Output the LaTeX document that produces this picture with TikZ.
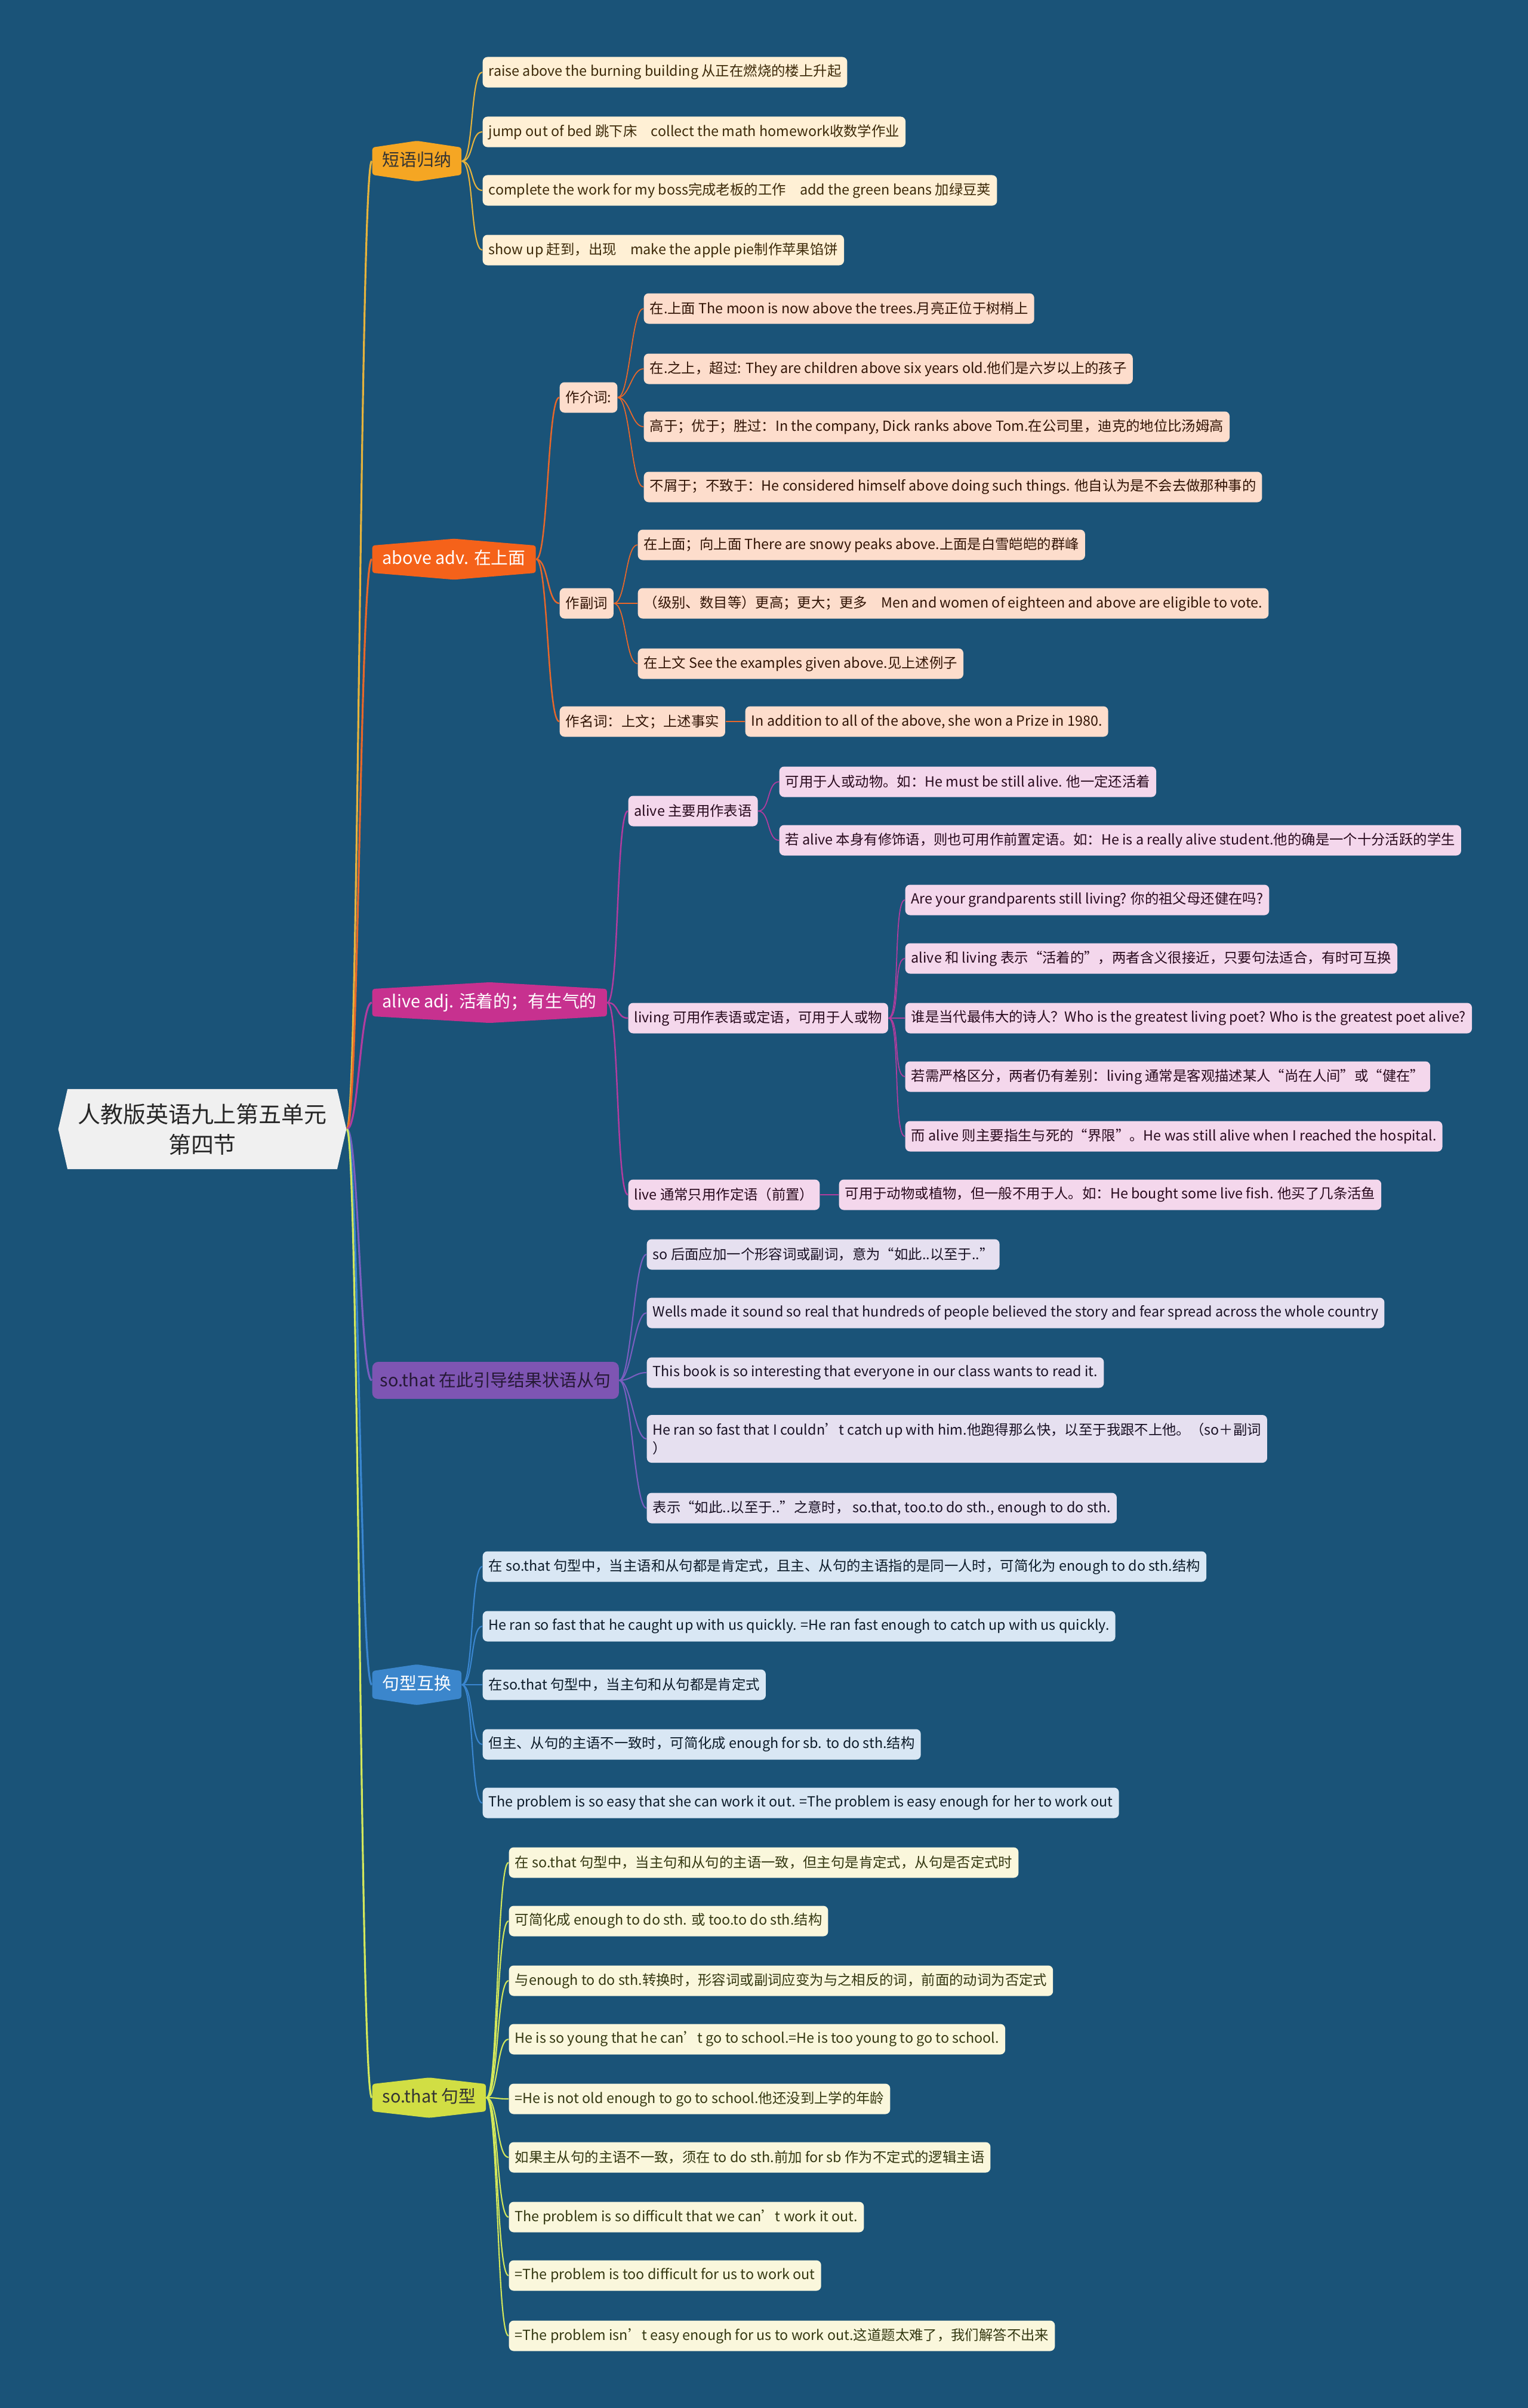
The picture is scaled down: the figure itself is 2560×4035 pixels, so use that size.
\documentclass[tikz,border=0pt]{standalone}
\usepackage{fontspec}
\setmainfont{Noto Sans CJK SC}
\usetikzlibrary{shapes.symbols}
\definecolor{bgblue}{HTML}{1A5378}
\definecolor{rootgray}{HTML}{F0F0F0}
\definecolor{rootink}{HTML}{262626}
% main topics
\definecolor{phrMain}{HTML}{F5A623}
\definecolor{abvMain}{HTML}{F5621A}
\definecolor{alvMain}{HTML}{C7318F}
\definecolor{sotMain}{HTML}{7E55B3}
\definecolor{swpMain}{HTML}{3B86CC}
\definecolor{patMain}{HTML}{D1DE44}
% leaves
\definecolor{phrLeaf}{HTML}{FFF0D5}
\definecolor{abvLeaf}{HTML}{FDDDCC}
\definecolor{alvLeaf}{HTML}{F4D7EC}
\definecolor{sotLeaf}{HTML}{E6E0F0}
\definecolor{swpLeaf}{HTML}{D9E7F4}
\definecolor{patLeaf}{HTML}{FAF7DC}
% wires
\definecolor{phrWire}{HTML}{E6B33C}
\definecolor{abvWire}{HTML}{E8672A}
\definecolor{alvWire}{HTML}{B23C9F}
\definecolor{sotWire}{HTML}{7A5EC0}
\definecolor{swpWire}{HTML}{3A86D0}
\definecolor{patWire}{HTML}{D4E85A}
\tikzset{leaf/.style={fill=#1,rounded corners=0.08cm,anchor=west,minimum height=0.51cm,inner xsep=0.1cm,inner ysep=0pt,font=\fontsize{6.65}{9}\selectfont}}
\tikzset{hexmain/.style={shape=signal,signal to=north and south,signal pointer angle=163,fill=#1,rounded corners=0.04cm,anchor=west,inner xsep=0.17cm,inner ysep=0.085cm,text height=6.6pt,text depth=1.6pt,font=\fontsize{8.2}{10}\selectfont}}
\tikzset{boxmain/.style={fill=#1,rounded corners=0.1cm,anchor=west,minimum height=0.62cm,inner xsep=0.13cm,font=\fontsize{8.2}{10}\selectfont}}
\tikzset{link/.style={to path={(\tikztostart) .. controls ([xshift=0.2cm]\tikztostart) and ([xshift=-0.2cm]\tikztotarget) .. (\tikztotarget)}}}

\begin{document}
\begin{tikzpicture}[x=0.01cm,y=-0.01cm]
	\useasboundingbox (0,0) rectangle (2560,4035);
	\fill[bgblue] (0,0) rectangle (2560,4035);

	\node[shape=signal,signal to=east and west,signal pointer angle=154,fill=rootgray,text=rootink,align=center,inner xsep=0.17cm,inner ysep=0.24cm,font=\fontsize{10.8}{14.5}\selectfont] (root) at (339,1892) {人教版英语九上第五单元\\第四节};

	% main topics
	\node[hexmain=phrMain,text=black!80] (phr) at (623,270) {短语归纳};
	\node[hexmain=abvMain,signal pointer angle=170.5,text=white] (abv) at (623,937) {above adv. 在上面};
	\node[hexmain=alvMain,signal pointer angle=173.5,text=white] (alv) at (623,1680) {alive adj. 活着的；有生气的};
	\node[boxmain=sotMain,text=sotMain!30!black] (sot) at (623,2313) {so.that 在此引导结果状语从句};
	\node[hexmain=swpMain,text=white] (swp) at (623,2823) {句型互换};
	\node[hexmain=patMain,signal pointer angle=167,text=black!80] (pat) at (623,3515) {so.that 句型};

	% 短语归纳
	\node[leaf=phrLeaf,text=phrMain!25!black] (p1) at (808,121) {raise above the burning building 从正在燃烧的楼上升起};
	\node[leaf=phrLeaf,text=phrMain!25!black] (p2) at (808,221) {jump out of bed 跳下床\quad collect the math homework收数学作业};
	\node[leaf=phrLeaf,text=phrMain!25!black] (p3) at (808,319) {complete the work for my boss完成老板的工作\quad add the green beans 加绿豆荚};
	\node[leaf=phrLeaf,text=phrMain!25!black] (p4) at (808,419) {show up 赶到，出现\quad make the apple pie制作苹果馅饼};

	% above
	\node[leaf=abvLeaf,text=abvMain!20!black] (prep) at (937,666) {作介词:};
	\node[leaf=abvLeaf,text=abvMain!20!black] (adv) at (937,1011) {作副词};
	\node[leaf=abvLeaf,text=abvMain!20!black] (noun) at (937,1209) {作名词：上文；上述事实};
	\node[leaf=abvLeaf,text=abvMain!20!black] (a1) at (1078,517) {在.上面 The moon is now above the trees.月亮正位于树梢上};
	\node[leaf=abvLeaf,text=abvMain!20!black] (a2) at (1078,618) {在.之上，超过: They are children above six years old.他们是六岁以上的孩子};
	\node[leaf=abvLeaf,text=abvMain!20!black] (a3) at (1078,715) {高于；优于；胜过：In the company, Dick ranks above Tom.在公司里，迪克的地位比汤姆高};
	\node[leaf=abvLeaf,text=abvMain!20!black] (a4) at (1078,816) {不屑于；不致于：He considered himself above doing such things. 他自认为是不会去做那种事的};
	\node[leaf=abvLeaf,text=abvMain!20!black] (a5) at (1068,913) {在上面；向上面 There are snowy peaks above.上面是白雪皑皑的群峰};
	\node[leaf=abvLeaf,text=abvMain!20!black] (a6) at (1068,1011) {（级别、数目等）更高；更大；更多\quad Men and women of eighteen and above are eligible to vote.};
	\node[leaf=abvLeaf,text=abvMain!20!black] (a7) at (1068,1112) {在上文 See the examples given above.见上述例子};
	\node[leaf=abvLeaf,text=abvMain!20!black] (a8) at (1248,1209) {In addition to all of the above, she won a Prize in 1980.};

	% alive
	\node[leaf=alvLeaf,text=alvMain!20!black] (pred) at (1052,1359) {alive 主要用作表语};
	\node[leaf=alvLeaf,text=alvMain!20!black] (livg) at (1052,1706) {living 可用作表语或定语，可用于人或物};
	\node[leaf=alvLeaf,text=alvMain!20!black] (live) at (1052,2002) {live 通常只用作定语（前置）};
	\node[leaf=alvLeaf,text=alvMain!20!black] (l1) at (1305,1310) {可用于人或动物。如：He must be still alive. 他一定还活着};
	\node[leaf=alvLeaf,text=alvMain!20!black] (l2) at (1305,1408) {若 alive 本身有修饰语，则也可用作前置定语。如：He is a really alive student.他的确是一个十分活跃的学生};
	\node[leaf=alvLeaf,text=alvMain!20!black] (l3) at (1516,1508) {Are your grandparents still living? 你的祖父母还健在吗?};
	\node[leaf=alvLeaf,text=alvMain!20!black] (l4) at (1516,1606) {alive 和 living 表示“活着的”，两者含义很接近，只要句法适合，有时可互换};
	\node[leaf=alvLeaf,text=alvMain!20!black] (l5) at (1516,1706) {谁是当代最伟大的诗人？Who is the greatest living poet? Who is the greatest poet alive?};
	\node[leaf=alvLeaf,text=alvMain!20!black] (l6) at (1516,1804) {若需严格区分，两者仍有差别：living 通常是客观描述某人“尚在人间”或“健在”};
	\node[leaf=alvLeaf,text=alvMain!20!black] (l7) at (1516,1904) {而 alive 则主要指生与死的“界限”。He was still alive when I reached the hospital.};
	\node[leaf=alvLeaf,text=alvMain!20!black] (l8) at (1405,2002) {可用于动物或植物，但一般不用于人。如：He bought some live fish. 他买了几条活鱼};

	% so.that 在此
	\node[leaf=sotLeaf,text=sotMain!20!black] (s1) at (1083,2102) {so 后面应加一个形容词或副词，意为“如此..以至于..”};
	\node[leaf=sotLeaf,text=sotMain!20!black] (s2) at (1083,2200) {Wells made it sound so real that hundreds of people believed the story and fear spread across the whole country};
	\node[leaf=sotLeaf,text=sotMain!20!black] (s3) at (1083,2300) {This book is so interesting that everyone in our class wants to read it.};
	\node[leaf=sotLeaf,text=sotMain!20!black,align=left,minimum height=0.8cm] (s4) at (1083,2411) {He ran so fast that I couldn't catch up with him.他跑得那么快，以至于我跟不上他。（so＋副词\\）};
	\node[leaf=sotLeaf,text=sotMain!20!black] (s5) at (1083,2527) {表示“如此..以至于..”之意时， so.that, too.to do sth., enough to do sth.};

	% 句型互换
	\node[leaf=swpLeaf,text=swpMain!20!black] (w1) at (808,2625) {在 so.that 句型中，当主语和从句都是肯定式，且主、从句的主语指的是同一人时，可简化为 enough to do sth.结构};
	\node[leaf=swpLeaf,text=swpMain!20!black] (w2) at (808,2725) {He ran so fast that he caught up with us quickly. =He ran fast enough to catch up with us quickly.};
	\node[leaf=swpLeaf,text=swpMain!20!black] (w3) at (808,2823) {在so.that 句型中，当主句和从句都是肯定式};
	\node[leaf=swpLeaf,text=swpMain!20!black] (w4) at (808,2923) {但主、从句的主语不一致时，可简化成 enough for sb. to do sth.结构};
	\node[leaf=swpLeaf,text=swpMain!20!black] (w5) at (808,3021) {The problem is so easy that she can work it out. =The problem is easy enough for her to work out};

	% so.that 句型
	\node[leaf=patLeaf,text=patMain!25!black] (t1) at (852,3121) {在 so.that 句型中，当主句和从句的主语一致，但主句是肯定式，从句是否定式时};
	\node[leaf=patLeaf,text=patMain!25!black] (t2) at (852,3219) {可简化成 enough to do sth. 或 too.to do sth.结构};
	\node[leaf=patLeaf,text=patMain!25!black] (t3) at (852,3319) {与enough to do sth.转换时，形容词或副词应变为与之相反的词，前面的动词为否定式};
	\node[leaf=patLeaf,text=patMain!25!black] (t4) at (852,3417) {He is so young that he can’t go to school.=He is too young to go to school.};
	\node[leaf=patLeaf,text=patMain!25!black] (t5) at (852,3517) {=He is not old enough to go to school.他还没到上学的年龄};
	\node[leaf=patLeaf,text=patMain!25!black] (t6) at (852,3615) {如果主从句的主语不一致，须在 to do sth.前加 for sb 作为不定式的逻辑主语};
	\node[leaf=patLeaf,text=patMain!25!black] (t7) at (852,3715) {The problem is so difficult that we can’t work it out.};
	\node[leaf=patLeaf,text=patMain!25!black] (t8) at (852,3813) {=The problem is too difficult for us to work out};
	\node[leaf=patLeaf,text=patMain!25!black] (t9) at (852,3914) {=The problem isn’t easy enough for us to work out.这道题太难了，我们解答不出来};

	% wires from the root
	\draw[line width=0.9pt]
		(root.east) edge[link,phrWire] (phr.west) edge[link,abvWire] (abv.west) edge[link,alvWire] (alv.west)
		edge[link,sotWire] (sot.west) edge[link,swpWire] (swp.west) edge[link,patWire] (pat.west);

	% wires inside the branches
	\draw[phrWire,line width=0.6pt] (phr.east) edge[link] (p1.west) edge[link] (p2.west) edge[link] (p3.west) edge[link] (p4.west);
	\draw[abvWire,line width=0.7pt] (abv.east) edge[link] (prep.west) edge[link] (adv.west) edge[link] (noun.west);
	\draw[abvWire,line width=0.5pt] (prep.east) edge[link] (a1.west) edge[link] (a2.west) edge[link] (a3.west) edge[link] (a4.west);
	\draw[abvWire,line width=0.5pt] (adv.east) edge[link] (a5.west) edge[link] (a6.west) edge[link] (a7.west);
	\draw[abvWire,line width=0.5pt] (noun.east) edge[link] (a8.west);
	\draw[alvWire,line width=0.7pt] (alv.east) edge[link] (pred.west) edge[link] (livg.west) edge[link] (live.west);
	\draw[alvWire,line width=0.5pt] (pred.east) edge[link] (l1.west) edge[link] (l2.west);
	\draw[alvWire,line width=0.5pt] (livg.east) edge[link] (l3.west) edge[link] (l4.west) edge[link] (l5.west) edge[link] (l6.west) edge[link] (l7.west);
	\draw[alvWire,line width=0.5pt] (live.east) edge[link] (l8.west);
	\draw[sotWire,line width=0.6pt] (sot.east) edge[link] (s1.west) edge[link] (s2.west) edge[link] (s3.west) edge[link] (s4.west) edge[link] (s5.west);
	\draw[swpWire,line width=0.6pt] (swp.east) edge[link] (w1.west) edge[link] (w2.west) edge[link] (w3.west) edge[link] (w4.west) edge[link] (w5.west);
	\draw[patWire,line width=0.6pt] (pat.east) edge[link] (t1.west) edge[link] (t2.west) edge[link] (t3.west) edge[link] (t4.west) edge[link] (t5.west)
		edge[link] (t6.west) edge[link] (t7.west) edge[link] (t8.west) edge[link] (t9.west);
\end{tikzpicture}
\end{document}
